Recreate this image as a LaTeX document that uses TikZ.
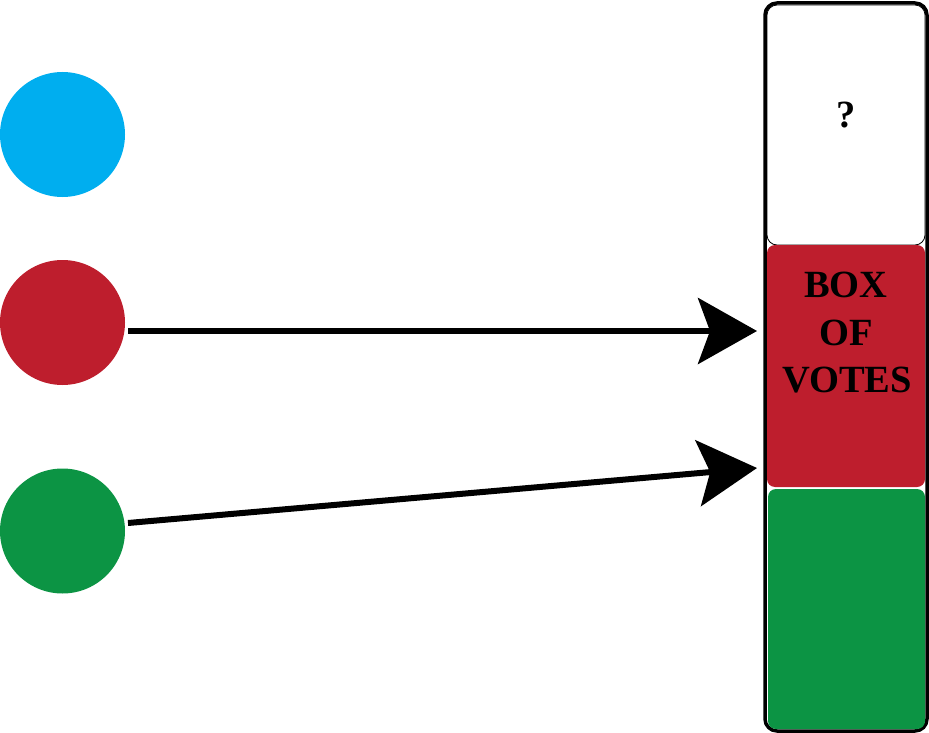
\documentclass[tikz,border=0pt]{standalone}
\usepackage{fontspec}
\setmainfont{Liberation Serif}
\usetikzlibrary{arrows.meta}
\definecolor{cblue}{HTML}{00AEEF}
\definecolor{cred}{HTML}{BE1E2D}
\definecolor{cgreen}{HTML}{0C9444}
\tikzset{
  dot/.style={circle, inner sep=0pt, minimum size=125pt},
  cell/.style={rectangle, inner sep=0pt, rounded corners=8pt},
  lbl/.style={font=\bfseries\fontsize{38.5}{47.5}\selectfont, inner sep=0pt, anchor=base},
  vote/.style={line width=6pt, -{Stealth[length=59pt,width=66pt,inset=12pt]}}
}
\begin{document}
\begin{tikzpicture}[x=1pt,y=-1pt]
\useasboundingbox (0,0) rectangle (929,733);
% circles
\node[dot, fill=cblue] (cb) at (62.5,134.5) {};
\node[dot, fill=cred] (cr) at (62.5,322.5) {};
\node[dot, fill=cgreen] (cg) at (62.5,531) {};
% ballot box frame
\node[draw=black, line width=3.5pt, rounded corners=12pt, minimum width=162pt, minimum height=728pt, inner sep=0pt] (frame) at (846,367) {};
\node[cell, draw=black, line width=0.8pt, fill=white, rounded corners=10pt, minimum width=158pt, minimum height=240pt] (top) at (846,125) {};
\node[cell, fill=cred, minimum width=158pt, minimum height=242pt] (mid) at (846,366) {};
\node[cell, fill=cgreen, minimum width=157pt, minimum height=240pt] (bot) at (846.5,609) {};
% labels
\node[lbl] (q) at (846,128) {?};
\node[lbl] (t1) at (846,297) {BOX};
\node[lbl] (t2) at (846,345) {OF};
\node[lbl] (t3) at (847,392) {VOTES};
% arrows
\coordinate (rs) at (128,331);
\coordinate (re) at (757,331);
\coordinate (gs) at (128,523);
\coordinate (ge) at (757,468);
\draw[vote] (rs) -- (re);
\draw[vote] (gs) -- (ge);
\end{tikzpicture}
\end{document}
